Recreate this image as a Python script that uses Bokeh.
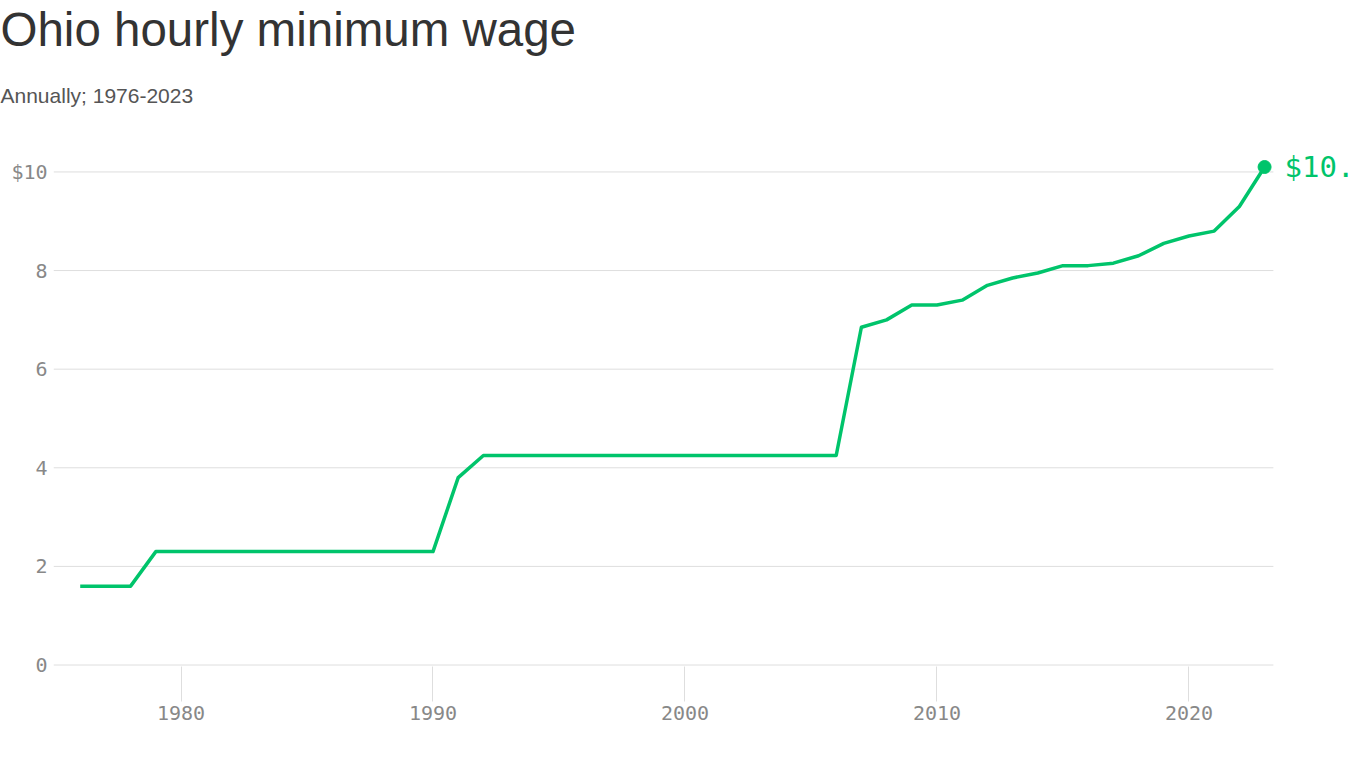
from bokeh.plotting import figure
from bokeh.models import Title, Label, FixedTicker, Range1d
from bokeh.embed import file_html
from bokeh.resources import INLINE

years = list(range(1976, 2024))
wages = [1.60, 1.60, 1.60, 2.30, 2.30, 2.30, 2.30, 2.30, 2.30, 2.30,
         2.30, 2.30, 2.30, 2.30, 2.30, 3.80, 4.25, 4.25, 4.25, 4.25,
         4.25, 4.25, 4.25, 4.25, 4.25, 4.25, 4.25, 4.25, 4.25, 4.25,
         4.25, 6.85, 7.00, 7.30, 7.30, 7.40, 7.70, 7.85, 7.95, 8.10,
         8.10, 8.15, 8.30, 8.55, 8.70, 8.80, 9.30, 10.10]
x_ticks = [1980, 1990, 2000, 2010, 2020]
y_ticks = [0, 2, 4, 6, 8, 10]
y_tick_labels = {0: "0", 2: "2", 4: "4", 6: "6", 8: "8", 10: "$10"}

title_text = "Ohio hourly minimum wage"
subtitle_text = "Annually; 1976-2023"

GREEN = "#00c46b"
GRID = "#dedede"
MONO = "DejaVu Sans Mono"

X_START, X_END = 1974.94, 2026.41
GRID_END = 2023.35

p = figure(width=1350, height=752, output_backend="svg", toolbar_location=None,
           x_range=Range1d(X_START, X_END), y_range=Range1d(-0.03, 10.80),
           min_border_left=53, min_border_right=0, min_border_bottom=86,
           min_border_top=20)
p.outline_line_color = None
p.background_fill_color = "white"
p.border_fill_color = "white"

p.title.text = title_text
p.title.text_font = "Liberation Sans"
p.title.text_font_size = "47.5px"
p.title.text_font_style = "normal"
p.title.text_color = "#333333"
p.title.align = "left"
p.title.offset = -53
p.title.standoff = 0

sub = Title(text=subtitle_text, text_font="Liberation Sans", text_font_size="21px",
            text_font_style="normal", text_color="#555555", align="left",
            offset=-53, standoff=52)
p.add_layout(sub, "above")

# axes
xa = p.xaxis[0]
xa.ticker = FixedTicker(ticks=x_ticks)
xa.axis_line_color = None
xa.major_tick_line_color = GRID
xa.major_tick_out = 35
xa.major_tick_in = 0
xa.minor_tick_line_color = None
xa.major_label_text_font = MONO
xa.major_label_text_font_size = "20px"
xa.major_label_text_color = "#888888"
xa.major_label_standoff = 4

ya = p.yaxis[0]
ya.ticker = FixedTicker(ticks=y_ticks)
ya.major_label_overrides = {k: v for k, v in y_tick_labels.items()}
ya.axis_line_color = None
ya.major_tick_line_color = None
ya.minor_tick_line_color = None
ya.major_label_text_font = MONO
ya.major_label_text_font_size = "20px"
ya.major_label_text_color = "#888888"
ya.major_label_standoff = 0

p.xgrid.grid_line_color = None
p.ygrid.grid_line_color = None

# horizontal gridlines stopping short of the end label
p.segment(x0=[X_START] * len(y_ticks), x1=[GRID_END] * len(y_ticks),
          y0=y_ticks, y1=y_ticks, line_color=GRID, line_width=1)

p.line(years, wages, line_color=GREEN, line_width=3.5, line_join="round")
p.scatter([years[-1]], [wages[-1]], size=13, fill_color=GREEN, line_color=GREEN)

lab = Label(x=years[-1], y=wages[-1], text=f"${wages[-1]:.2f}", x_offset=20,
            text_baseline="middle", text_align="left", text_font=MONO,
            text_font_size="29px", text_color=GREEN)
p.add_layout(lab)

open("out.html", "w").write(file_html(p, INLINE))
